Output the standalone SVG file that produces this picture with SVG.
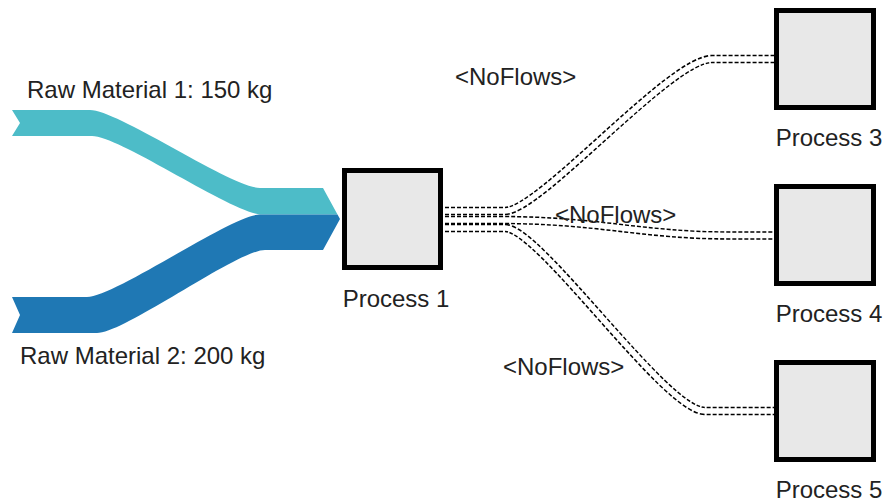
<svg xmlns="http://www.w3.org/2000/svg" width="885" height="503" viewBox="0 0 885 503">
<style>
  text { font-family: "Liberation Sans", Arial, sans-serif; font-size: 24px; fill: #222; }
  .box { fill: #e8e8e8; stroke: #000; stroke-width: 5; }
  .lbl { text-anchor: middle; }
  .linkOuter { fill: none; stroke: #000; stroke-width: 8.5; stroke-dasharray: 4 2; }
  .linkInner { fill: none; stroke: #fff; stroke-width: 5.5; }
</style>
<rect width="885" height="503" fill="#fff"/>
<g id="connectors">
  <path id="flow-raw1" fill="#4dbcc8" d="M12,110 L90,110 C118,110 232,188 260,188 L323,188 L337.5,214.5 L262,214.5 C234,214.5 120,136 92,136 L12,136 L20,123 Z"/>
  <path id="flow-raw2" fill="#1f78b4" d="M12,297 L87,297 C115,297 232,214.5 260,214.5 L337.5,214.5 L340,219 L323,250 L265,250 C237,250 125,333 97,333 L12,333 L20,315 Z"/>
  <g id="link-p1-p3">
    <path class="linkOuter" d="M445,211 L505,211 C540,211 670,59 712,59 L775,59"/>
    <path class="linkInner" d="M445,211 L505,211 C540,211 670,59 712,59 L775,59"/>
  </g>
  <g id="link-p1-p4">
    <path class="linkOuter" d="M445,220 L500,220 C600,220 640,235.5 730,235.5 L775,235.5"/>
    <path class="linkInner" d="M445,220 L500,220 C600,220 640,235.5 730,235.5 L775,235.5"/>
  </g>
  <g id="link-p1-p5">
    <path class="linkOuter" d="M445,228 L505,228 C540,228 665,411 705,411 L775,411"/>
    <path class="linkInner" d="M445,228 L505,228 C540,228 665,411 705,411 L775,411"/>
  </g>
  <text x="455" y="85">&lt;NoFlows&gt;</text>
  <text x="555" y="223">&lt;NoFlows&gt;</text>
  <text x="503" y="375">&lt;NoFlows&gt;</text>
  <text x="27" y="98">Raw Material 1: 150 kg</text>
  <text x="20" y="364">Raw Material 2: 200 kg</text>
</g>
<g id="process1">
  <rect class="box" x="344.5" y="170.5" width="96" height="97"/>
  <text class="lbl" x="396" y="307">Process 1</text>
</g>
<g id="process3">
  <rect class="box" x="776.5" y="10.5" width="97" height="97"/>
  <text class="lbl" x="829" y="146">Process 3</text>
</g>
<g id="process4">
  <rect class="box" x="776.5" y="186.5" width="97" height="97"/>
  <text class="lbl" x="829" y="322">Process 4</text>
</g>
<g id="process5">
  <rect class="box" x="776.5" y="362.5" width="97" height="97"/>
  <text class="lbl" x="829" y="498">Process 5</text>
</g>
</svg>
